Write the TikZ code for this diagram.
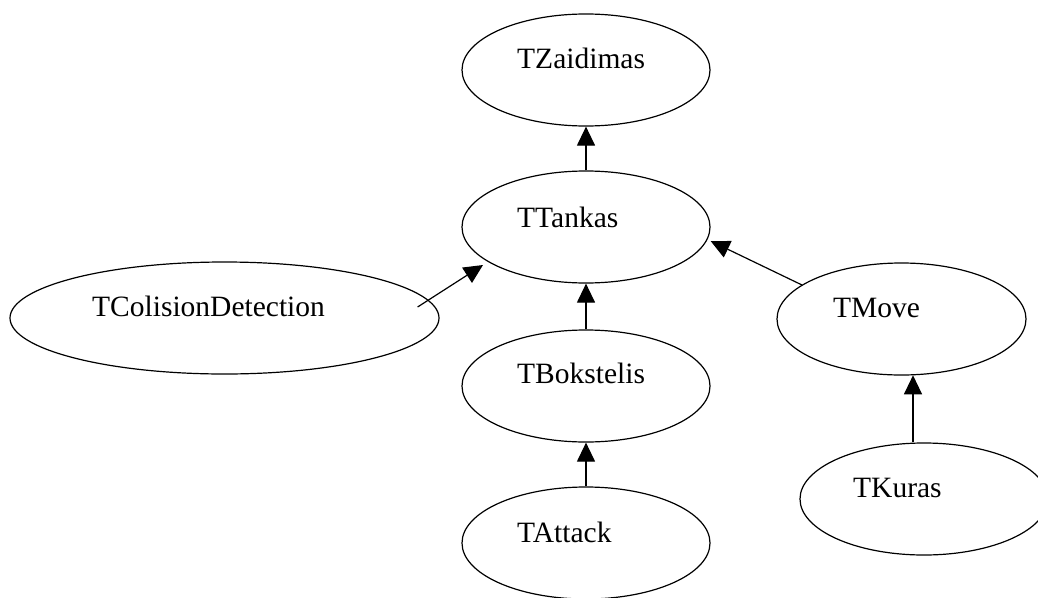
\documentclass[tikz,border=0pt]{standalone}
\usepackage{fontspec}
\setmainfont{Liberation Serif}
\usetikzlibrary{shapes.geometric,arrows.meta}
\begin{document}
\begin{tikzpicture}[x=1pt,y=-1pt,
  oval/.style={ellipse,draw,line width=1.2pt,minimum width=248pt,minimum height=112pt,inner sep=0pt},
  lbl/.style={anchor=base west,inner sep=0pt,font=\fontsize{29.5}{30}\selectfont},
  arr/.style={line width=1.2pt,-{Triangle[length=19pt,width=18pt]}}]
\useasboundingbox (0,0) rectangle (1038,597);
% class ovals
\node[oval] (z) at (586,70) {};
\node[oval] (t) at (586,227) {};
\node[oval,minimum width=429pt] (cd) at (224.5,318) {};
\node[oval] (b) at (586,386) {};
\node[oval] (a) at (586,543) {};
\node[oval,minimum width=249pt] (m) at (901.5,319) {};
\node[oval] (k) at (924,499) {};
% class names
\node[lbl] (zl) at (517,68) {TZaidimas};
\node[lbl] (tl) at (517,227) {TTankas};
\node[lbl] (cdl) at (92,316) {TColisionDetection};
\node[lbl] (bl) at (517,383) {TBokstelis};
\node[lbl] (al) at (517,542) {TAttack};
\node[lbl] (ml) at (833,317) {TMove};
\node[lbl] (kl) at (853,497) {TKuras};
% inheritance arrows
\draw[arr] (t.north) -- (z.south);
\draw[arr] (b.north) -- (t.south);
\draw[arr] (a.north) -- (b.south);
\draw[arr] ([shift={(-22,-11)}]cd.east) -- ([shift={(-103,38)}]t.center);
\draw[arr] ([shift={(-99.5,-34)}]m.center) -- ([shift={(0,14)}]t.east);
\draw[arr] ([xshift=-11]k.north) -- ([xshift=11.5,yshift=0.3]m.south);
\end{tikzpicture}
\end{document}
